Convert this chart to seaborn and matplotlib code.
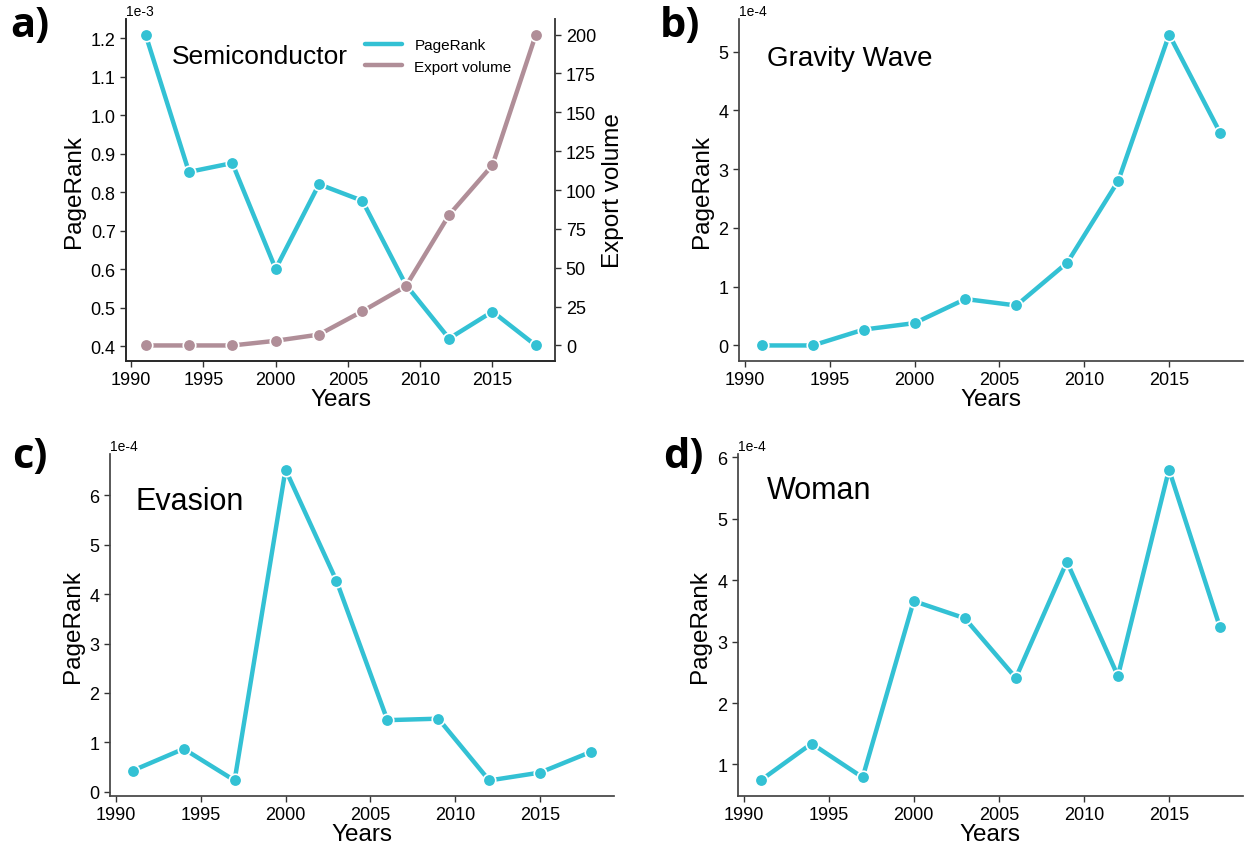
import matplotlib
matplotlib.use("Agg")
import matplotlib.pyplot as plt
from matplotlib.lines import Line2D
import seaborn as sns
import pandas as pd

years = [1991, 1994, 1997, 2000, 2003, 2006, 2009, 2012, 2015, 2018]
semiconductor_pr = [1.21e-3, 0.853e-3, 0.876e-3, 0.601e-3, 0.821e-3, 0.778e-3, 0.56e-3, 0.42e-3, 0.49e-3, 0.402e-3]
semiconductor_export = [0, 0, 0, 3, 7, 22, 38, 84, 116, 200]
gravity_pr = [0.0, 0.0, 0.27e-4, 0.38e-4, 0.79e-4, 0.68e-4, 1.41e-4, 2.80e-4, 5.29e-4, 3.62e-4]
evasion_pr = [0.43e-4, 0.87e-4, 0.23e-4, 6.52e-4, 4.27e-4, 1.45e-4, 1.48e-4, 0.23e-4, 0.39e-4, 0.81e-4]
woman_pr = [0.74e-4, 1.34e-4, 0.79e-4, 3.66e-4, 3.38e-4, 2.41e-4, 4.30e-4, 2.44e-4, 5.80e-4, 3.23e-4]

panel_letters = ["a)", "b)", "c)", "d)"]
panel_titles = ["Semiconductor", "Gravity Wave", "Evasion", "Woman"]

CYAN = "#33C1D4"
MAUVE = "#B08E98"

sns.set_theme(style="ticks")
plt.rcParams["font.family"] = ["Liberation Sans", "DejaVu Sans"]
plt.rcParams["axes.unicode_minus"] = False
plt.rcParams["text.color"] = "black"
plt.rcParams["axes.labelcolor"] = "black"
plt.rcParams["xtick.color"] = "black"
plt.rcParams["ytick.color"] = "black"

fig = plt.figure(figsize=(12.48, 8.45), dpi=100)

positions = [
    [0.101, 0.5716, 0.344, 0.4047],
    [0.592, 0.5716, 0.404, 0.4047],
    [0.088, 0.0568, 0.404, 0.4047],
    [0.591, 0.0568, 0.405, 0.4047],
]
series = [semiconductor_pr, gravity_pr, evasion_pr, woman_pr]
title_pos = [(0.107, 0.892, 19), (0.056, 0.886, 20), (0.05, 0.863, 22), (0.057, 0.895, 22)]
letter_pos = [(0.008, 0.993), (0.529, 0.993), (0.010, 0.483), (0.531, 0.483)]

line_kw = dict(marker="o", markersize=9, markeredgecolor="white", markeredgewidth=1.2,
               linewidth=3.2)

for i, (pos, vals) in enumerate(zip(positions, series)):
    ax = fig.add_axes(pos)
    df = pd.DataFrame({"Years": years, "PageRank": vals})
    sns.lineplot(data=df, x="Years", y="PageRank", color=CYAN, ax=ax, **line_kw)
    ax.set_xticks([1990, 1995, 2000, 2005, 2010, 2015])
    ax.ticklabel_format(style="sci", scilimits=(0, 0), axis="y", useMathText=False)
    ax.yaxis.get_offset_text().set_fontsize(10)
    ax.tick_params(labelsize=13, length=4, width=1, color="#333333", labelcolor="black")
    ax.set_xlabel("Years", fontsize=17.5, labelpad=0, color="black")
    ax.set_ylabel("PageRank", fontsize=17.5, labelpad=4, color="black")
    for s in ["left", "bottom"]:
        ax.spines[s].set_color("#444444")
    ax.spines["top"].set_visible(False)
    if i == 0:
        ax.spines["right"].set_visible(True)
        ax.spines["right"].set_color("#444444")
        ax2 = ax.twinx()
        df2 = pd.DataFrame({"Years": years, "Export volume": semiconductor_export})
        sns.lineplot(data=df2, x="Years", y="Export volume", color=MAUVE, ax=ax2, **line_kw)
        ax2.set_yticks([0, 25, 50, 75, 100, 125, 150, 175, 200])
        ax2.tick_params(labelsize=13, length=4, width=1, color="#333333", labelcolor="black")
        ax2.set_ylabel("Export volume", fontsize=17.5, labelpad=4, color="black")
        ax2.spines["top"].set_visible(False)
        ax2.spines["right"].set_color("#444444")
        handles = [Line2D([0], [0], color=CYAN, lw=3.2), Line2D([0], [0], color=MAUVE, lw=3.2)]
        ax.legend(handles, ["PageRank", "Export volume"], loc="upper right",
                  bbox_to_anchor=(0.93, 0.985), frameon=False, fontsize=11,
                  handlelength=2.4, labelspacing=0.5)
    else:
        ax.spines["right"].set_visible(False)
    tx, ty, ts = title_pos[i]
    ax.text(tx, ty, panel_titles[i], transform=ax.transAxes, fontsize=ts,
            va="center", ha="left", color="black")
    lx, ly = letter_pos[i]
    fig.text(lx, ly, panel_letters[i], fontsize=30, fontweight="bold",
             family=["Open Sans", "DejaVu Sans"], va="top", ha="left", color="black")

fig.savefig("out.png", dpi=100)
